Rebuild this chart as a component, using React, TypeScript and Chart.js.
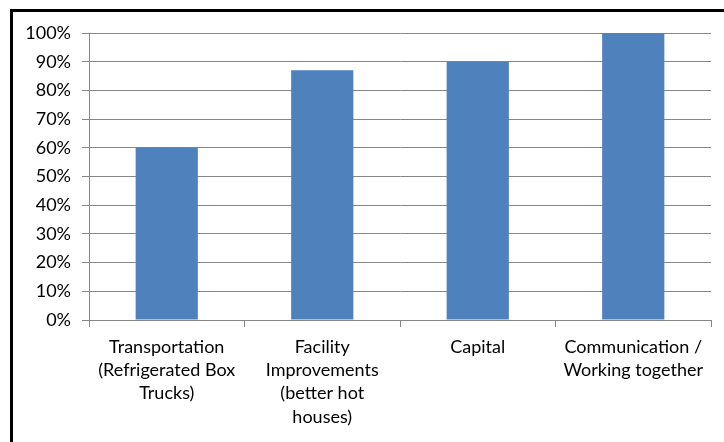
import React, { useEffect, useRef } from "react";
import { Chart, registerables } from "chart.js";

Chart.register(...registerables);

const categories: string[][] = [
  ["Transportation", "(Refrigerated Box", "Trucks)"],
  ["Facility", "Improvements", "(better hot", "houses)"],
  ["Capital"],
  ["Communication /", "Working together"],
];
const values: number[] = [60, 87, 90, 100];
const yMin = 0;
const yMax = 100;
const yStep = 10;

const FONT = "Lato, 'Open Sans', sans-serif";
const GRID = "#868686";

export default function App() {
  const ref = useRef<HTMLCanvasElement | null>(null);

  useEffect(() => {
    if (!ref.current) return;
    const chart = new Chart(ref.current, {
      type: "bar",
      data: {
        labels: categories,
        datasets: [
          {
            data: values,
            backgroundColor: "#4F81BD",
            borderWidth: 0,
            barPercentage: 0.4,
            categoryPercentage: 1,
          },
        ],
      },
      options: {
        responsive: false,
        animation: false,
        devicePixelRatio: 1,
        layout: { padding: { left: 0, right: 13, top: 33, bottom: 0 } },
        plugins: { legend: { display: false }, tooltip: { enabled: false } },
        scales: {
          x: {
            offset: true,
            grid: {
              display: true,
              offset: true,
              drawOnChartArea: false,
              drawTicks: true,
              tickLength: 7,
              color: GRID,
            },
            border: { display: true, color: GRID },
            ticks: {
              color: "#000",
              font: { family: FONT, size: 18, lineHeight: 1.3 },
              maxRotation: 0,
              autoSkip: false,
              padding: 8,
            },
            afterFit: (s: any) => {
              s.height = 122;
            },
          },
          y: {
            min: yMin,
            max: yMax,
            grid: { color: GRID, tickLength: 7, drawTicks: true },
            border: { display: true, color: GRID },
            ticks: {
              stepSize: yStep,
              color: "#000",
              font: { family: FONT, size: 18 },
              padding: 11,
              callback: (v: any) => v + "%",
            },
            afterFit: (s: any) => {
              s.width = 89;
            },
          },
        },
      },
    });
    return () => chart.destroy();
  }, []);

  return (
    <div style={{ position: "fixed", left: 0, top: 0, width: 724, height: 442, background: "#fff" }}>
      <canvas ref={ref} width={724} height={442} style={{ display: "block" }} />
      <div
        style={{
          position: "absolute",
          left: 10,
          top: 9,
          width: 714,
          height: 433,
          borderTop: "3px solid #000",
          borderLeft: "3px solid #000",
          boxSizing: "border-box",
          pointerEvents: "none",
        }}
      />
    </div>
  );
}
